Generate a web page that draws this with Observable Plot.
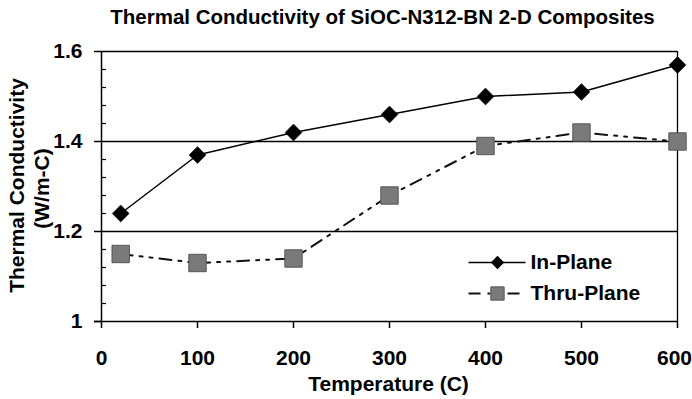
<!DOCTYPE html>
<html><head><meta charset="utf-8">
<script src="https://cdn.jsdelivr.net/npm/d3@7"></script>
<script src="https://cdn.jsdelivr.net/npm/@observablehq/plot@0.6"></script>
<style>html,body{margin:0;padding:0;background:#fff;}</style>
</head><body><div id="chart"></div>
<script>
const title = "Thermal Conductivity of SiOC-N312-BN 2-D Composites";
const xLabel = "Temperature (C)";
const yLabelLines = ["Thermal Conductivity", "(W/m-C)"];
const temperatures = [20, 100, 200, 300, 400, 500, 600];
const inPlane = [1.24, 1.37, 1.42, 1.46, 1.50, 1.51, 1.57];
const thruPlane = [1.15, 1.13, 1.14, 1.28, 1.39, 1.42, 1.40];
const seriesNames = ["In-Plane", "Thru-Plane"];
const xTicks = [0, 100, 200, 300, 400, 500, 600];
const yTicks = [1, 1.2, 1.4, 1.6];
const yTickLabels = ["1", "1.2", "1.4", "1.6"];
const yMinorTicks = [1.04, 1.08, 1.12, 1.16, 1.24, 1.28, 1.32, 1.36, 1.44, 1.48, 1.52, 1.56];

const inData = temperatures.map((t, i) => ({t, v: inPlane[i]}));
const thruData = temperatures.map((t, i) => ({t, v: thruPlane[i]}));
const font = "'Liberation Sans', Arial, Helvetica, sans-serif";
const dash = "12,7,3,7,3,7";
const lineSymbol = {draw(ctx) { ctx.moveTo(-29, 0); ctx.lineTo(28, 0); }};
const txt = {fontSize: 21, fontWeight: "bold", fill: "#000"};

const chart = Plot.plot({
  width: 692, height: 399,
  marginLeft: 101, marginRight: 15, marginTop: 51, marginBottom: 78,
  style: {fontFamily: font, fontSize: "21px", fontWeight: "bold", color: "#000", background: "#fff"},
  x: {domain: [0, 600]},
  y: {domain: [1, 1.6]},
  marks: [
    Plot.ruleY(yTicks.slice(1), {stroke: "#000", strokeWidth: 1.3}),
    Plot.ruleY([1], {stroke: "#000", strokeWidth: 1.5, insetLeft: -7}),
    Plot.ruleX([0], {stroke: "#000", strokeWidth: 1.5}),
    Plot.ruleX([600], {stroke: "#000", strokeWidth: 1.3}),
    Plot.axisY(yTicks, {tickSize: 7, tickPadding: 12, tickFormat: d => yTickLabels[yTicks.indexOf(d)], label: null, strokeWidth: 1.5, fontSize: 21, fontWeight: "bold"}),
    Plot.axisY(yMinorTicks, {tickSize: 5, dx: 5, tickFormat: () => "", label: null, strokeWidth: 1.2}),
    Plot.axisX(xTicks, {tickSize: 7, tickPadding: 22, tickFormat: d => d === 600 ? "" : String(d), label: null, strokeWidth: 1.5, fontSize: 21, fontWeight: "bold"}),
    Plot.axisX(xTicks.slice(-1), {tickSize: 0, tickPadding: 29, dx: -3, label: null, fontSize: 21, fontWeight: "bold"}),
    Plot.text([title], {text: d => d, frameAnchor: "top", dy: -34, dx: -7, lineAnchor: "middle", textAnchor: "middle", ...txt, fontSize: 20.5}),
    Plot.text([xLabel], {text: d => d, frameAnchor: "bottom", dy: 63, dx: -1, lineAnchor: "middle", textAnchor: "middle", ...txt}),
    Plot.text([yLabelLines[0]], {text: d => d, frameAnchor: "left", rotate: -90, dx: -84, dy: -1, lineAnchor: "middle", textAnchor: "middle", ...txt}),
    Plot.text([yLabelLines[1]], {text: d => d, frameAnchor: "left", rotate: -90, dx: -59, dy: 2, lineAnchor: "middle", textAnchor: "middle", ...txt}),
    Plot.line(thruData, {x: "t", y: "v", stroke: "#111", strokeWidth: 2, strokeDasharray: dash}),
    Plot.line(inData, {x: "t", y: "v", stroke: "#000", strokeWidth: 1.5}),
    Plot.dot(thruData, {x: "t", y: "v", symbol: "square", r: 9.8, fill: "#7a7a7a", stroke: "#555", strokeWidth: 1}),
    Plot.dot(inData, {x: "t", y: "v", symbol: "diamond2", r: 7.6, fill: "#000", stroke: "#000", strokeWidth: 0.5}),
    // legend
    Plot.dot([seriesNames[0]], {frameAnchor: "top-left", dx: 396, dy: 211, symbol: lineSymbol, stroke: "#000", strokeWidth: 1.5, fill: "none"}),
    Plot.dot([seriesNames[0]], {frameAnchor: "top-left", dx: 396, dy: 211, symbol: "diamond2", r: 6, fill: "#000"}),
    Plot.text([seriesNames[0]], {text: d => d, frameAnchor: "top-left", dx: 429, dy: 211, lineAnchor: "middle", textAnchor: "start", ...txt}),
    Plot.dot([seriesNames[1]], {frameAnchor: "top-left", dx: 396, dy: 242, symbol: lineSymbol, stroke: "#111", strokeWidth: 2, fill: "none", strokeDasharray: dash}),
    Plot.dot([seriesNames[1]], {frameAnchor: "top-left", dx: 396, dy: 242, symbol: "square", r: 7.5, fill: "#7a7a7a", stroke: "#555", strokeWidth: 1}),
    Plot.text([seriesNames[1]], {text: d => d, frameAnchor: "top-left", dx: 429, dy: 242, lineAnchor: "middle", textAnchor: "start", ...txt})
  ]
});
document.getElementById("chart").appendChild(chart);
</script>
</body></html>
